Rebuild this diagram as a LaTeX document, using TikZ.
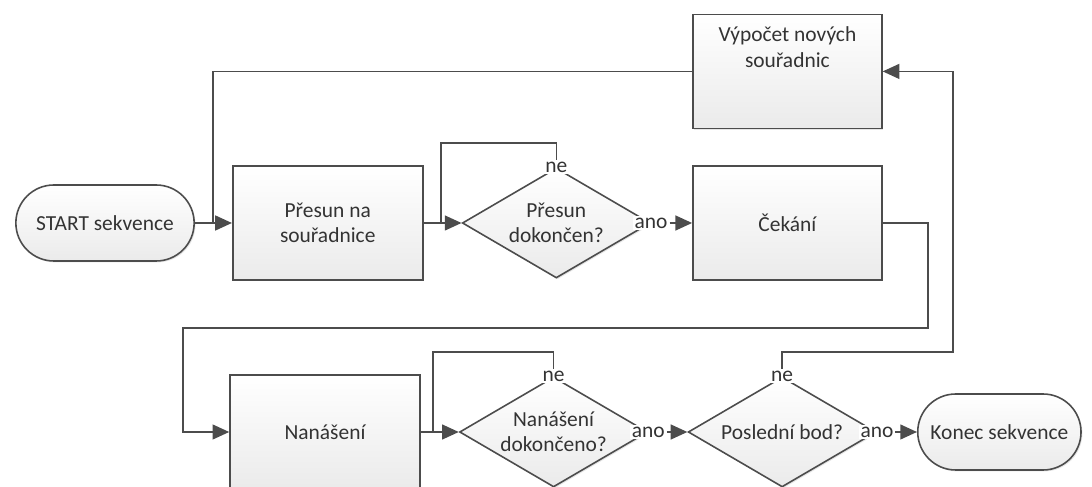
\documentclass[tikz,border=0pt]{standalone}
\usepackage{fontspec}
\setmainfont{Carlito}
\usetikzlibrary{positioning,arrows.meta,shapes.geometric,shapes.misc,shadows}

\begin{document}
\begin{tikzpicture}[node distance=0.76cm,>={Triangle[length=9.5pt,width=8.5pt]},
  font=\fontsize{12.2}{14.5}\selectfont, text=black!80,
  shade/.style={top color=white, bottom color=black!8, draw=black!70, line width=0.9pt,
    drop shadow={opacity=0.2, shadow xshift=0.8pt, shadow yshift=-0.8pt}},
  procbox/.style={shade, rectangle, minimum width=3.8cm, minimum height=2.28cm, align=center},
  decision/.style={shade, diamond, aspect=1.7, minimum width=3.76cm, minimum height=2.2cm, inner sep=0pt, align=center},
  terminal/.style={shade, rounded rectangle, minimum width=3.8cm, minimum height=1.52cm},
  answer/.style={fill=white, inner sep=1pt},
  line/.style={draw=black!70, line width=0.9pt},
  flow/.style={line, ->}]
  \clip (0,0) rectangle (21.84,-9.74);
  % Row 1
  \node[terminal] (start) at (2.1,-4.46) {START sekvence};
  \node[procbox, right=0.74cm of start] (move) {Přesun na\\souřadnice};
  \node[decision, right=of move] (d1) {Přesun\\dokončen?};
  \node[procbox, right=0.82cm of d1, minimum width=3.78cm] (wait) {Čekání};
  \node[procbox, above=0.72cm of wait, minimum width=3.78cm] (calc) {Výpočet nových\\souřadnic\\[1.1em]};
  \node[answer] (ne1) at (d1.north) {ne};
  \node[answer] (ano1) at (d1.east) {ano};
  % Row 2
  \node[procbox] (coat) at (6.5,-8.64) {Nanášení};
  \node[decision, right=of coat] (d2) {Nanášení\\dokončeno?};
  \node[decision, right=0.78cm of d2] (d3) {Poslední bod?};
  \node[terminal, right=0.8cm of d3, minimum width=3.5cm] (stop) {Konec sekvence};
  \node[answer] (ne2) at (d2.north) {ne};
  \node[answer] (ano2) at (d2.east) {ano};
  \node[answer] (ne3) at (d3.north) {ne};
  \node[answer] (ano3) at (d3.east) {ano};
  % Bends
  \coordinate (j1) at (4.26,-4.46);
  \coordinate (k1) at (8.82,-2.86);
  \coordinate (j2) at (8.82,-4.46);
  \coordinate (c1) at (18.56,-6.56);
  \coordinate (c2) at (3.66,-6.56);
  \coordinate (k2) at (8.66,-7.04);
  \coordinate (j3) at (8.66,-8.64);
  \coordinate (k3) at (19.06,-7.04);
  % Connections
  \draw[flow] (start) -- (move);
  \draw[line] (calc.west) -| (j1);
  \draw[flow] (move) -- (d1);
  \draw[line] (ne1.north) |- (k1) -- (j2);
  \draw[flow] (ano1) -- (wait);
  \draw[flow] (wait.east) -| (c1) -- (c2) |- (coat.west);
  \draw[flow] (coat) -- (d2);
  \draw[line] (ne2.north) |- (k2) -- (j3);
  \draw[flow] (ano2) -- (d3);
  \draw[flow] (ano3) -- (stop);
  \draw[flow] (ne3.north) |- (k3) |- (calc.east);
\end{tikzpicture}
\end{document}
